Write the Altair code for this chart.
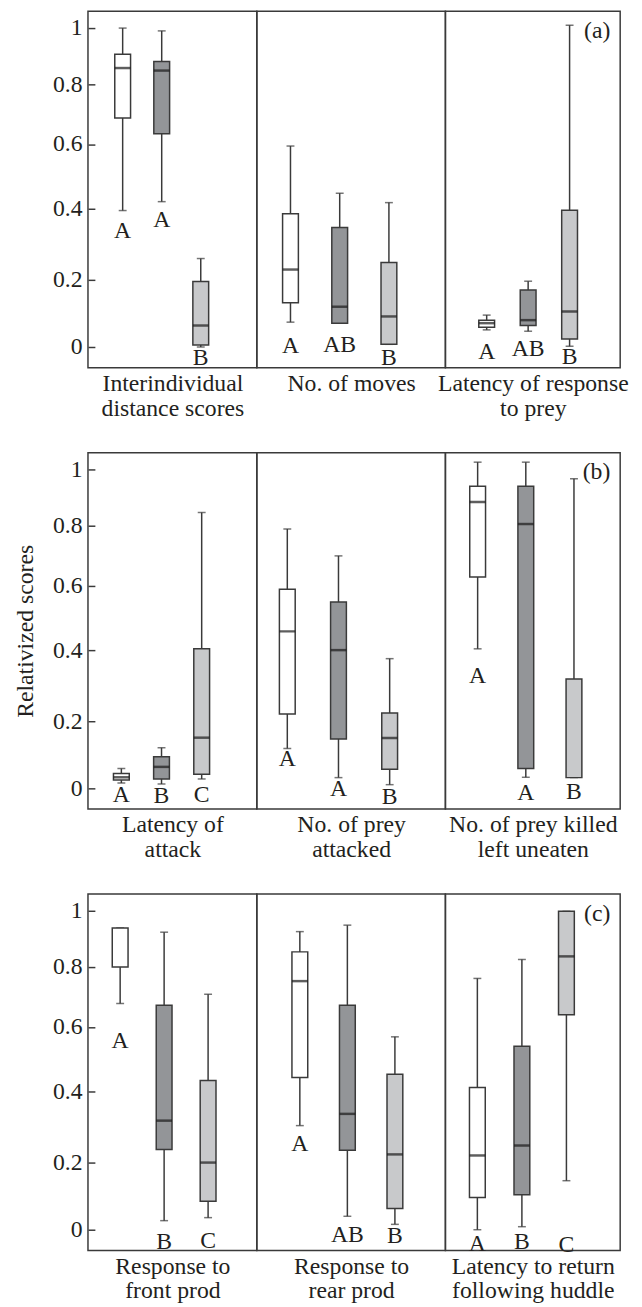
import altair as alt
import pandas as pd

# ---------------- data ----------------
PANEL_TITLES = [
    ["Interindividual", "distance scores"],
    ["No. of moves"],
    ["Latency of response", "to prey"],
    ["Latency of", "attack"],
    ["No. of prey", "attacked"],
    ["No. of prey killed", "left uneaten"],
    ["Response to", "front prod"],
    ["Response to", "rear prod"],
    ["Latency to return", "following huddle"],
]
ROW_LABELS = ["(a)", "(b)", "(c)"]
GROUPS = ["Group 1", "Group 2", "Group 3"]

UPPER_WHISKER = [
    [1.000, 0.990, 0.260], [0.594, 0.448, 0.419], [0.095, 0.196, 1.010],
    [0.059, 0.121, 0.847], [0.789, 0.699, 0.376], [1.026, 1.026, 0.967],
    [0.939, 0.924, 0.709], [0.926, 0.949, 0.569], [0.762, 0.827, 0.998],
]
Q3 = [
    [0.907, 0.881, 0.195], [0.386, 0.347, 0.249], [0.080, 0.170, 0.396],
    [0.044, 0.094, 0.404], [0.588, 0.549, 0.223], [0.940, 0.940, 0.319],
    [0.939, 0.672, 0.434], [0.854, 0.672, 0.453], [0.412, 0.540, 0.998],
]
MEDIAN = [
    [0.858, 0.849, 0.064], [0.229, 0.120, 0.091], [0.071, 0.080, 0.106],
    [0.033, 0.064, 0.151], [0.458, 0.400, 0.150], [0.884, 0.806, None],
    [None, 0.318, 0.200], [0.753, 0.337, 0.223], [0.220, 0.248, 0.838],
]
Q1 = [
    [0.687, 0.635, 0.006], [0.132, 0.071, 0.008], [0.059, 0.064, 0.024],
    [0.025, 0.028, 0.042], [0.220, 0.147, 0.057], [0.628, 0.059, 0.032],
    [0.800, 0.237, 0.085], [0.443, 0.235, 0.063], [0.096, 0.104, 0.640],
]
LOWER_WHISKER = [
    [0.395, 0.422, 0.000], [0.074, 0.071, 0.008], [0.051, 0.047, 0.002],
    [0.016, 0.013, 0.028], [0.119, 0.032, 0.011], [0.404, 0.033, 0.032],
    [0.678, 0.027, 0.036], [0.304, 0.040, 0.016], [0.000, 0.009, 0.146],
]
LETTERS = [
    ["A", "A", "B"], ["A", "AB", "B"], ["A", "AB", "B"],
    ["A", "B", "C"], ["A", "A", "B"], ["A", "A", "B"],
    ["A", "B", "C"], ["A", "AB", "B"], ["A", "B", "C"],
]
LETTER_AT = [
    [0.336, 0.368, -0.034], [0.002, 0.005, -0.034], [-0.015, -0.005, -0.030],
    [-0.020, -0.022, -0.020], [0.088, -0.003, -0.027], [0.328, -0.015, -0.010],
    [0.556, -0.037, -0.035], [0.253, -0.017, -0.020], [-0.042, -0.037, -0.047],
]
Y_TICKS = [0, 0.2, 0.4, 0.6, 0.8, 1]

# ---------------- layout / style ----------------
FILLS = ["#ffffff", "#939598", "#c8c9cb"]
INK = "#231f20"
LINE = "#3a3a3a"
FONT = "Liberation Serif"
FS = 24
COL_W = [171, 191, 177]
ROW_H = 361
# first box offset (px) and spacing between boxes (px) in each panel
X_LAYOUT = [(32, 42), (30.7, 52.6), (39, 44.5),
            (30.6, 43.2), (27.3, 54.7), (29.3, 51.7),
            (29.3, 47.3), (40.7, 50.8), (29, 47.8)]
# piecewise-linear y scale following the reference's (uneven) tick spacing
Y_DOMAIN = [-0.062, 0, 0.2, 0.4, 0.6, 0.8, 1.0, 1.06]
Y_RANGE = [361, 340, 272, 200, 134.5, 74, 17, 0]


def panel(i):
    row, col = divmod(i, 3)
    W = COL_W[col]
    df = pd.DataFrame({
        "pos": [1, 2, 3],
        "grp": GROUPS,
        "hi": UPPER_WHISKER[i],
        "q3": Q3[i],
        "med": MEDIAN[i],
        "q1": Q1[i],
        "lo": LOWER_WHISKER[i],
        "letter": LETTERS[i],
        "letter_at": LETTER_AT[i],
    })
    p1, s = X_LAYOUT[i]
    lo = 1 - p1 / s
    xs = alt.Scale(domain=[lo, lo + W / s], nice=False, zero=False)
    ys = alt.Scale(domain=Y_DOMAIN, range=Y_RANGE, nice=False, zero=False)
    xaxis = alt.Axis(title=PANEL_TITLES[i], labels=False, ticks=False,
                     domain=False, grid=False, titlePadding=4,
                     titleLineHeight=25)
    if col == 0:
        yaxis = alt.Axis(values=Y_TICKS, format="~g", offset=-7, tickSize=7,
                         tickWidth=1.5, tickColor=LINE, domain=False,
                         grid=False, labelPadding=6, titlePadding=15,
                         title="Relativized scores" if row == 1 else None)
    else:
        yaxis = None

    def X():
        return alt.X("pos:Q", scale=xs, axis=xaxis)

    def Y(field):
        return alt.Y(field, type="quantitative", scale=ys, axis=yaxis)

    base = alt.Chart(df)
    whisk = base.mark_rule(color=LINE, strokeWidth=1.5).encode(
        x=X(), y=Y("lo"), y2="hi")
    cap_lo = base.mark_tick(orient="horizontal", size=8, thickness=1.5,
                            color=LINE).encode(x=X(), y=Y("lo"))
    cap_hi = base.mark_tick(orient="horizontal", size=8, thickness=1.5,
                            color=LINE).encode(x=X(), y=Y("hi"))
    box = base.mark_bar(size=16, stroke=LINE, strokeWidth=1.5).encode(
        x=X(), y=Y("q1"), y2="q3",
        fill=alt.Fill("grp:N", scale=alt.Scale(domain=GROUPS, range=FILLS),
                      legend=None))
    med = base.transform_filter("datum.med != null").mark_tick(
        orient="horizontal", size=16, thickness=2.5, color="#1a1a1a"
    ).encode(x=X(), y=Y("med"))
    letters = base.mark_text(font=FONT, fontSize=FS, color=INK,
                             baseline="middle", align="center").encode(
        x=X(), y=Y("letter_at"), text="letter:N")
    layers = [whisk, cap_lo, cap_hi, box, med, letters]
    if col == 2:
        lab = alt.Chart(pd.DataFrame({"t": [ROW_LABELS[row]]})).mark_text(
            font=FONT, fontSize=FS, color=INK, align="right",
            baseline="middle").encode(
            text="t:N", x=alt.value(W - 10), y=alt.value(20))
        layers.append(lab)
    return alt.layer(*layers).properties(width=W, height=ROW_H)


rows = [alt.hconcat(*[panel(3 * r + c) for c in range(3)], spacing=0,
                    bounds="flush") for r in range(3)]
chart = alt.vconcat(*rows, spacing=31).properties(
    padding={"left": 5, "top": -6, "right": 5, "bottom": 0}
).configure_view(
    stroke=LINE, strokeWidth=1.5
).configure_axis(
    labelFont=FONT, titleFont=FONT, labelFontSize=FS, titleFontSize=FS,
    titleFontWeight="normal", labelColor=INK, titleColor=INK
)

chart.save("out.html", embed_options={"renderer": "svg", "actions": False})
